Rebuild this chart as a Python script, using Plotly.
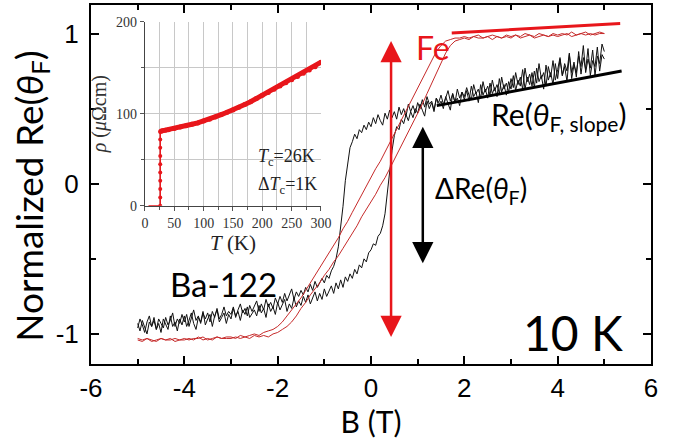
import plotly.graph_objects as go

# ---------------- main data (field sweep, normalized rotation) ----------------
# coarse field grid for the Fe loop
B = [-5.0, -4.9, -4.8, -4.7, -4.6, -4.5, -4.4, -4.3, -4.2, -4.1,
     -4.0, -3.9, -3.8, -3.7, -3.6, -3.5, -3.4, -3.3, -3.2, -3.1,
     -3.0, -2.9, -2.8, -2.7, -2.6, -2.5, -2.4, -2.3, -2.2, -2.1,
     -2.0, -1.9, -1.8, -1.7, -1.6, -1.5, -1.4, -1.3, -1.2, -1.1,
     -1.0, -0.9, -0.8, -0.7, -0.6, -0.5, -0.4, -0.3, -0.2, -0.1,
     0.0, 0.1, 0.2, 0.3, 0.4, 0.5, 0.6, 0.7, 0.8, 0.9,
     1.0, 1.1, 1.2, 1.3, 1.4, 1.5, 1.6, 1.7, 1.8, 1.9,
     2.0, 2.1, 2.2, 2.3, 2.4, 2.5, 2.6, 2.7, 2.8, 2.9,
     3.0, 3.1, 3.2, 3.3, 3.4, 3.5, 3.6, 3.7, 3.8, 3.9,
     4.0, 4.1, 4.2, 4.3, 4.4, 4.5, 4.6, 4.7, 4.8, 4.9,
     5.0]

# fine field grid for the noisy Ba-122 loop
B_fine = [-5.00, -4.95, -4.90, -4.85, -4.80, -4.75, -4.70, -4.65, -4.60, -4.55,
          -4.50, -4.45, -4.40, -4.35, -4.30, -4.25, -4.20, -4.15, -4.10, -4.05,
          -4.00, -3.95, -3.90, -3.85, -3.80, -3.75, -3.70, -3.65, -3.60, -3.55,
          -3.50, -3.45, -3.40, -3.35, -3.30, -3.25, -3.20, -3.15, -3.10, -3.05,
          -3.00, -2.95, -2.90, -2.85, -2.80, -2.75, -2.70, -2.65, -2.60, -2.55,
          -2.50, -2.45, -2.40, -2.35, -2.30, -2.25, -2.20, -2.15, -2.10, -2.05,
          -2.00, -1.95, -1.90, -1.85, -1.80, -1.75, -1.70, -1.65, -1.60, -1.55,
          -1.50, -1.45, -1.40, -1.35, -1.30, -1.25, -1.20, -1.15, -1.10, -1.05,
          -1.00, -0.95, -0.90, -0.85, -0.80, -0.75, -0.70, -0.65, -0.60, -0.55,
          -0.50, -0.45, -0.40, -0.35, -0.30, -0.25, -0.20, -0.15, -0.10, -0.05,
          0.00, 0.05, 0.10, 0.15, 0.20, 0.25, 0.30, 0.35, 0.40, 0.45,
          0.50, 0.55, 0.60, 0.65, 0.70, 0.75, 0.80, 0.85, 0.90, 0.95,
          1.00, 1.05, 1.10, 1.15, 1.20, 1.25, 1.30, 1.35, 1.40, 1.45,
          1.50, 1.55, 1.60, 1.65, 1.70, 1.75, 1.80, 1.85, 1.90, 1.95,
          2.00, 2.05, 2.10, 2.15, 2.20, 2.25, 2.30, 2.35, 2.40, 2.45,
          2.50, 2.55, 2.60, 2.65, 2.70, 2.75, 2.80, 2.85, 2.90, 2.95,
          3.00, 3.05, 3.10, 3.15, 3.20, 3.25, 3.30, 3.35, 3.40, 3.45,
          3.50, 3.55, 3.60, 3.65, 3.70, 3.75, 3.80, 3.85, 3.90, 3.95,
          4.00, 4.05, 4.10, 4.15, 4.20, 4.25, 4.30, 4.35, 4.40, 4.45,
          4.50, 4.55, 4.60, 4.65, 4.70, 4.75, 4.80, 4.85, 4.90, 4.95,
          5.00]

ba122_up = [-0.93, -0.98, -0.91, -0.96, -1.00, -0.92, -0.95, -0.89, -0.97, -0.93,
            -0.99, -0.90, -0.94, -0.97, -0.88, -0.95, -0.92, -0.98, -0.90, -0.94,
            -0.88, -0.95, -0.91, -0.86, -0.93, -0.97, -0.89, -0.92, -0.85, -0.94,
            -0.90, -0.87, -0.95, -0.88, -0.84, -0.92, -0.89, -0.86, -0.93, -0.87,
            -0.90, -0.83, -0.88, -0.85, -0.91, -0.84, -0.87, -0.82, -0.89, -0.86,
            -0.84, -0.88, -0.81, -0.86, -0.83, -0.89, -0.80, -0.85, -0.82, -0.87,
            -0.79, -0.84, -0.81, -0.77, -0.85, -0.80, -0.83, -0.76, -0.82, -0.78,
            -0.81, -0.75, -0.79, -0.74, -0.80, -0.76, -0.72, -0.78, -0.73, -0.77,
            -0.70, -0.75, -0.71, -0.68, -0.73, -0.66, -0.70, -0.64, -0.69, -0.62,
            -0.65, -0.60, -0.63, -0.57, -0.60, -0.54, -0.56, -0.50, -0.52, -0.46,
            -0.44, -0.40, -0.41, -0.35, -0.33, -0.28, -0.20, -0.05, 0.10, 0.22,
            0.32, 0.38, 0.36, 0.43, 0.40, 0.46, 0.42, 0.48, 0.44, 0.50,
            0.47, 0.53, 0.49, 0.45, 0.55, 0.50, 0.54, 0.48, 0.57, 0.52,
            0.55, 0.50, 0.58, 0.53, 0.49, 0.60, 0.54, 0.57, 0.52, 0.61,
            0.56, 0.62, 0.55, 0.65, 0.58, 0.61, 0.54, 0.66, 0.59, 0.63,
            0.57, 0.67, 0.60, 0.64, 0.58, 0.70, 0.61, 0.66, 0.59, 0.68,
            0.63, 0.72, 0.62, 0.69, 0.65, 0.76, 0.63, 0.71, 0.66, 0.74,
            0.64, 0.77, 0.68, 0.72, 0.63, 0.79, 0.69, 0.74, 0.66, 0.80,
            0.70, 0.83, 0.72, 0.78, 0.68, 0.86, 0.74, 0.81, 0.71, 0.88,
            0.73, 0.84, 0.76, 0.90, 0.72, 0.82, 0.78, 0.91, 0.75, 0.86,
            0.83]

ba122_down = [-0.96, -0.90, -0.94, -0.99, -0.92, -0.88, -0.95, -0.91, -0.97, -0.90,
              -0.93, -0.96, -0.89, -0.94, -0.91, -0.86, -0.95, -0.90, -0.93, -0.87,
              -0.92, -0.87, -0.95, -0.90, -0.84, -0.91, -0.88, -0.93, -0.86, -0.90,
              -0.86, -0.92, -0.85, -0.89, -0.83, -0.90, -0.87, -0.82, -0.88, -0.85,
              -0.87, -0.82, -0.89, -0.84, -0.80, -0.86, -0.83, -0.88, -0.81, -0.85,
              -0.82, -0.78, -0.85, -0.80, -0.84, -0.77, -0.82, -0.79, -0.83, -0.76,
              -0.80, -0.75, -0.79, -0.73, -0.78, -0.74, -0.70, -0.77, -0.72, -0.75,
              -0.71, -0.74, -0.69, -0.72, -0.67, -0.71, -0.65, -0.69, -0.66, -0.63,
              -0.66, -0.61, -0.63, -0.58, -0.55, -0.50, -0.42, -0.30, -0.15, 0.02,
              0.15, 0.24, 0.28, 0.33, 0.30, 0.36, 0.34, 0.39, 0.36, 0.41,
              0.38, 0.44, 0.40, 0.46, 0.42, 0.39, 0.47, 0.43, 0.49, 0.44,
              0.48, 0.43, 0.51, 0.46, 0.50, 0.45, 0.53, 0.48, 0.52, 0.47,
              0.54, 0.50, 0.56, 0.51, 0.58, 0.53, 0.55, 0.49, 0.57, 0.54,
              0.59, 0.53, 0.57, 0.62, 0.55, 0.60, 0.54, 0.63, 0.57, 0.61,
              0.58, 0.64, 0.59, 0.56, 0.66, 0.60, 0.63, 0.57, 0.68, 0.61,
              0.65, 0.59, 0.69, 0.62, 0.66, 0.60, 0.71, 0.63, 0.67, 0.61,
              0.70, 0.64, 0.74, 0.66, 0.71, 0.63, 0.77, 0.68, 0.73, 0.65,
              0.75, 0.67, 0.80, 0.70, 0.74, 0.65, 0.78, 0.71, 0.82, 0.69,
              0.76, 0.84, 0.72, 0.80, 0.75, 0.87, 0.70, 0.79, 0.74, 0.85,
              0.78, 0.92, 0.74, 0.83, 0.77, 0.89, 0.72, 0.85, 0.80, 0.93,
              0.88]

fe_up = [-1.04, -1.05, -1.03, -1.04, -1.05, -1.03, -1.04, -1.03, -1.05, -1.04,
         -1.04, -1.03, -1.04, -1.02, -1.04, -1.03, -1.04, -1.02, -1.03, -1.03,
         -1.03, -1.02, -1.03, -1.02, -1.03, -1.01, -1.02, -1.01, -1.02, -1.00,
         -0.99, -0.97, -0.95, -0.92, -0.88, -0.83, -0.79, -0.74, -0.70, -0.66,
         -0.61, -0.57, -0.52, -0.48, -0.43, -0.38, -0.33, -0.28, -0.22, -0.17,
         -0.12, -0.07, -0.01, 0.04, 0.10, 0.16, 0.22, 0.28, 0.34, 0.40,
         0.46, 0.53, 0.60, 0.67, 0.74, 0.81, 0.87, 0.92, 0.95, 0.96,
         0.97, 0.96, 0.98, 0.97, 0.97, 0.98, 0.96, 0.98, 0.97, 0.98,
         0.97, 0.99, 0.97, 0.98, 0.99, 0.97, 0.98, 0.99, 0.98, 0.99,
         0.98, 0.99, 1.00, 0.98, 0.99, 1.00, 0.99, 1.00, 0.99, 1.00,
         1.00]

fe_down = [-1.03, -1.04, -1.03, -1.05, -1.04, -1.03, -1.04, -1.04, -1.03, -1.04,
           -1.03, -1.04, -1.03, -1.03, -1.02, -1.04, -1.03, -1.02, -1.03, -1.02,
           -1.02, -1.03, -1.01, -1.02, -1.01, -1.00, -1.01, -0.99, -0.98, -0.97,
           -0.95, -0.92, -0.88, -0.84, -0.80, -0.76, -0.71, -0.66, -0.61, -0.56,
           -0.51, -0.46, -0.41, -0.36, -0.30, -0.25, -0.19, -0.13, -0.08, -0.02,
           0.04, 0.10, 0.15, 0.21, 0.27, 0.33, 0.39, 0.45, 0.51, 0.57,
           0.63, 0.70, 0.76, 0.82, 0.88, 0.92, 0.95, 0.96, 0.97, 0.97,
           0.98, 0.97, 0.98, 0.99, 0.97, 0.98, 0.99, 0.98, 0.97, 0.99,
           0.98, 0.99, 0.98, 1.00, 0.99, 0.98, 1.00, 0.99, 0.98, 1.00,
           0.99, 1.00, 0.99, 1.01, 0.99, 1.00, 1.01, 0.99, 1.00, 1.01,
           1.00]

# guide lines (saturation line and slope line)
fe_sat_B = [1.73, 5.34]
fe_sat_y = [1.004, 1.067]
slope_B = [1.41, 5.37]
slope_y = [0.52, 0.75]

# arrows
fe_arrow_B = 0.43
fe_arrow_y = [-1.03, 0.95]
dre_arrow_B = 1.11
dre_arrow_y = [-0.54, 0.38]

# main axis ticks
x_ticks = [-6, -4, -2, 0, 2, 4, 6]
x_ticktext = ["-6", "-4", "-2", "0", "2", "4", "6"]
y_ticks = [-1, 0, 1]
y_ticktext = ["-1", "0", "1"]

# ---------------- inset data (resistivity vs temperature) ----------------
T_sc = [6, 10, 14, 18, 22, 25, 26]
rho_sc = [0, 0, 0, 0, 0, 0, 0]
T_tr = [26, 26, 26, 26, 26, 26, 26, 26, 26, 26]
rho_tr = [0, 9, 18, 27, 36, 45, 54, 63, 72, 80]
T_n = [27, 30, 35, 40, 50, 60, 70, 80, 90, 100, 110, 120, 130, 140, 150, 160, 170,
       180, 190, 200, 210, 220, 230, 240, 250, 260, 270, 280, 290, 300]
rho_n = [81, 81.5, 82, 82.5, 84, 85.5, 87, 88.5, 90, 92, 94, 96.5, 99, 101.5, 104,
         107, 110, 113, 116.5, 120, 123, 126.5, 130, 133.5, 137, 140.5, 144, 147.5,
         151, 156]
inset_x_ticks = [0, 50, 100, 150, 200, 250, 300]
inset_y_ticks = [0, 100, 200]

BLACK = "#111111"
RED_LOOP = "#c62a2a"
RED = "#e8161b"
SANS = "Lato"
ARIAL = "Liberation Sans"
SERIF = "Liberation Serif"

fig = go.Figure()

# main curves
fig.add_trace(go.Scatter(x=B_fine, y=ba122_up, mode="lines", line=dict(color=BLACK, width=1), showlegend=False))
fig.add_trace(go.Scatter(x=B_fine, y=ba122_down, mode="lines", line=dict(color=BLACK, width=1), showlegend=False))
fig.add_trace(go.Scatter(x=B, y=fe_up, mode="lines", line=dict(color=RED_LOOP, width=1), showlegend=False))
fig.add_trace(go.Scatter(x=B, y=fe_down, mode="lines", line=dict(color=RED_LOOP, width=1), showlegend=False))
fig.add_trace(go.Scatter(x=fe_sat_B, y=fe_sat_y, mode="lines", line=dict(color=RED, width=3), showlegend=False))
fig.add_trace(go.Scatter(x=slope_B, y=slope_y, mode="lines", line=dict(color="black", width=3), showlegend=False))

# inset curves
fig.add_trace(go.Scatter(x=T_sc, y=rho_sc, mode="lines", line=dict(color=RED, width=1.5),
                         xaxis="x2", yaxis="y2", showlegend=False))
fig.add_trace(go.Scatter(x=T_tr, y=rho_tr, mode="lines+markers", line=dict(color=RED, width=1.5),
                         marker=dict(color=RED, size=4), xaxis="x2", yaxis="y2", showlegend=False))
fig.add_trace(go.Scatter(x=T_n, y=rho_n, mode="lines+markers", line=dict(color=RED, width=5),
                         marker=dict(color=RED, size=5), xaxis="x2", yaxis="y2", showlegend=False))

annotations = []
# arrows
annotations.append(dict(x=fe_arrow_B, y=fe_arrow_y[1], ax=fe_arrow_B, ay=fe_arrow_y[0],
                        xref="x", yref="y", axref="x", ayref="y", text="", showarrow=True,
                        arrowhead=2, arrowside="end+start", arrowsize=1.7, arrowwidth=2.5,
                        arrowcolor=RED, standoff=0, startstandoff=0))
annotations.append(dict(x=dre_arrow_B, y=dre_arrow_y[1], ax=dre_arrow_B, ay=dre_arrow_y[0],
                        xref="x", yref="y", axref="x", ayref="y", text="", showarrow=True,
                        arrowhead=2, arrowside="end+start", arrowsize=1.7, arrowwidth=2.5,
                        arrowcolor="black", standoff=0, startstandoff=0))
# y axis title (placed as rotated text)
annotations.append(dict(x=-0.106, y=0.468, xref="paper", yref="paper", textangle=-90,
                        xanchor="center", yanchor="middle", showarrow=False,
                        text="Normalized Re(<i>θ</i><sub>F</sub>)",
                        font=dict(family=SANS, size=37, color="black")))
# text labels
annotations.append(dict(x=1.33, y=0.91, xref="x", yref="y", text="Fe", showarrow=False,
                        font=dict(family=SANS, size=32, color=RED)))
annotations.append(dict(x=2.52, y=0.45, xref="x", yref="y", xanchor="left",
                        text="Re(<i>θ</i><sub>F, slope</sub>)", showarrow=False,
                        font=dict(family=SANS, size=30, color="black")))
annotations.append(dict(x=1.33, y=-0.04, xref="x", yref="y", xanchor="left",
                        text="ΔRe(<i>θ</i><sub>F</sub>)", showarrow=False,
                        font=dict(family=SANS, size=28, color="black")))
annotations.append(dict(x=-4.35, y=-0.67, xref="x", yref="y", xanchor="left",
                        text="Ba-122", showarrow=False,
                        font=dict(family=SANS, size=33, color="black")))
annotations.append(dict(x=5.45, y=-0.99, xref="x", yref="y", xanchor="right",
                        text="10 K", showarrow=False,
                        font=dict(family=SANS, size=48, color="black")))
# inset labels
annotations.append(dict(x=190, y=52, xref="x2", yref="y2", xanchor="left",
                        text="<i>T</i><sub>c</sub>=26K", showarrow=False,
                        font=dict(family=SERIF, size=18, color="#222")))
annotations.append(dict(x=190, y=22, xref="x2", yref="y2", xanchor="left",
                        text="Δ<i>T</i><sub>c</sub>=1K", showarrow=False,
                        font=dict(family=SERIF, size=18, color="#222")))

fig.update_layout(
    width=674, height=447, autosize=False,
    margin=dict(l=91, r=23, t=5, b=83),
    paper_bgcolor="white", plot_bgcolor="white",
    annotations=annotations,
    xaxis=dict(range=[-6, 6], tickvals=x_ticks, ticktext=x_ticktext, automargin=False,
               ticks="inside", ticklen=8, tickwidth=1.5, tickcolor="black",
               minor=dict(dtick=1, ticks="inside", ticklen=5, tickwidth=1.5, tickcolor="black"),
               showline=True, linecolor="black", linewidth=2, mirror="ticks",
               showgrid=False, zeroline=False,
               tickfont=dict(family=ARIAL, size=26, color="black"),
               title=dict(text="B (T)", font=dict(family=SANS, size=30, color="black"), standoff=10)),
    yaxis=dict(range=[-1.2, 1.19], tickvals=y_ticks, ticktext=y_ticktext, automargin=False,
               ticks="inside", ticklen=8, tickwidth=1.5, tickcolor="black",
               minor=dict(dtick=0.5, tick0=0, ticks="inside", ticklen=5, tickwidth=1.5, tickcolor="black"),
               showline=True, linecolor="black", linewidth=2, mirror="ticks",
               showgrid=False, zeroline=False, ticklabelstandoff=5,
               tickfont=dict(family=ARIAL, size=26, color="black")),
    xaxis2=dict(domain=[0.0964, 0.4107], anchor="y2", range=[0, 300], automargin=False,
                tickvals=inset_x_ticks, ticks="outside", ticklen=4, tickcolor="#555",
                minor=dict(dtick=25, tick0=0, ticks="outside", ticklen=3, tickcolor="#555",
                           showgrid=True, gridcolor="#c8c8c8", gridwidth=1),
                showgrid=True, gridcolor="#c8c8c8", gridwidth=1,
                showline=True, linecolor="#444", linewidth=1.2, zeroline=False,
                tickfont=dict(family=SERIF, size=14, color="#333"),
                title=dict(text="<i>T</i> (K)", font=dict(family=SERIF, size=21, color="#222"), standoff=0)),
    yaxis2=dict(domain=[0.441, 0.9535], anchor="x2", range=[0, 200], automargin=False,
                tickvals=inset_y_ticks, ticks="outside", ticklen=4, tickcolor="#555",
                minor=dict(dtick=50, tick0=0, ticks="outside", ticklen=3, tickcolor="#555",
                           showgrid=True, gridcolor="#c8c8c8", gridwidth=1),
                showgrid=True, gridcolor="#c8c8c8", gridwidth=1,
                showline=True, linecolor="#444", linewidth=1.2, zeroline=False,
                tickfont=dict(family=SERIF, size=14, color="#333"),
                title=dict(text="<i>ρ</i> (<i>μ</i>Ωcm)", font=dict(family=SERIF, size=20, color="#333"), standoff=4)),
)

# remove the default page margin so the figure sits at the window origin; hide the mode bar
fig.write_html("out.html", config={"displayModeBar": False},
               post_script="document.body.style.margin='0px';")
